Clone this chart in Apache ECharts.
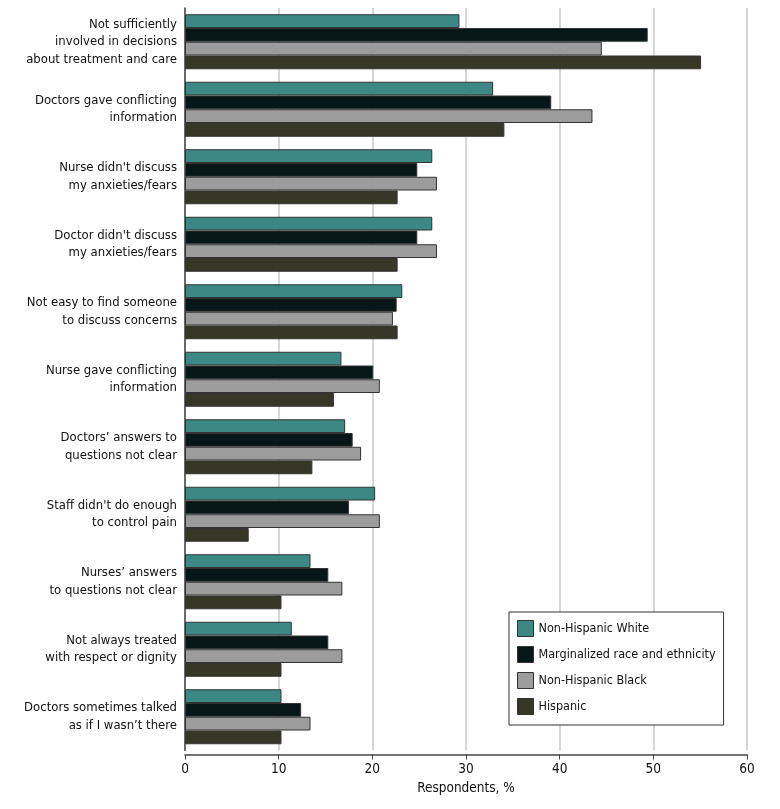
<!DOCTYPE html>
<html>
<head>
<meta charset="utf-8">
<script src="https://cdn.jsdelivr.net/npm/echarts@6/dist/echarts.min.js"></script>
<style>html,body{margin:0;padding:0;background:#fff;}#c{width:780px;height:809px;}</style>
</head>
<body>
<div id="c"></div>
<script>
const categories = [
  "Not sufficiently\ninvolved in decisions\nabout treatment and care",
  "Doctors gave conflicting\ninformation",
  "Nurse didn't discuss\nmy anxieties/fears",
  "Doctor didn't discuss\nmy anxieties/fears",
  "Not easy to find someone\nto discuss concerns",
  "Nurse gave conflicting\ninformation",
  "Doctors\u2019 answers to\nquestions not clear",
  "Staff didn't do enough\nto control pain",
  "Nurses\u2019 answers\nto questions not clear",
  "Not always treated\nwith respect or dignity",
  "Doctors sometimes talked\nas if I wasn\u2019t there"
];
const seriesNames = ["Non-Hispanic White", "Marginalized race and ethnicity", "Non-Hispanic Black", "Hispanic"];
const nonHispanicWhite = [29.3, 32.9, 26.4, 26.4, 23.2, 16.7, 17.1, 20.3, 13.4, 11.4, 10.3];
const marginalized     = [49.4, 39.1, 24.8, 24.8, 22.6, 20.1, 17.9, 17.5, 15.3, 15.3, 12.4];
const nonHispanicBlack = [44.5, 43.5, 26.9, 26.9, 22.2, 20.8, 18.8, 20.8, 16.8, 16.8, 13.4];
const hispanic         = [55.1, 34.1, 22.7, 22.7, 22.7, 15.9, 13.6, 6.8, 10.3, 10.3, 10.3];
const xTicks = [0, 10, 20, 30, 40, 50, 60];

const colors = ["#3b8885", "#071617", "#9c9c9c", "#363726"];
const font = "'DejaVu Sans Condensed', 'Liberation Sans Narrow', sans-serif";
const chart = echarts.init(document.getElementById('c'), null, {renderer: 'canvas'});
const allData = [nonHispanicWhite, marginalized, nonHispanicBlack, hispanic];
chart.setOption({
  animation: false,
  backgroundColor: '#fff',
  grid: {left: 185, right: 33, top: 8, height: 742.5, containLabel: false},
  legend: {
    orient: 'vertical', left: 509, top: 612,
    padding: [8, 8, 10, 8],
    itemWidth: 16, itemHeight: 16, itemGap: 9,
    borderColor: '#333', borderWidth: 1,
    backgroundColor: '#fff',
    textStyle: {fontFamily: font, fontSize: 12.5, color: '#111'},
    data: seriesNames.map((n, i) => ({name: n, icon: 'rect', itemStyle: {color: colors[i], borderColor: '#333', borderWidth: 1}}))
  },
  xAxis: {
    type: 'value', min: xTicks[0], max: xTicks[xTicks.length - 1], interval: 10,
    offset: 4,
    name: 'Respondents, %', nameLocation: 'middle', nameGap: 27,
    nameTextStyle: {fontFamily: font, fontSize: 13.5, color: '#111'},
    axisLine: {show: true, lineStyle: {color: '#444', width: 1.5}},
    axisTick: {show: true, length: 5, lineStyle: {color: '#444'}},
    axisLabel: {fontFamily: font, fontSize: 13.5, color: '#111', margin: 8},
    splitLine: {show: true, lineStyle: {color: '#c8c8c8', width: 1.5}}
  },
  yAxis: {
    type: 'category', data: categories, inverse: true,
    axisLine: {show: true, lineStyle: {color: '#444', width: 1.5}},
    axisTick: {show: false},
    axisLabel: {fontFamily: font, fontSize: 13, color: '#111', lineHeight: 17.5, margin: 8, align: 'right'},
    splitLine: {show: false}
  },
  series: seriesNames.map((n, i) => ({
    name: n, type: 'bar', data: allData[i],
    barWidth: 13.75, barGap: '0%',
    itemStyle: {color: colors[i], borderColor: '#333', borderWidth: 1}
  }))
});
</script>
</body>
</html>
